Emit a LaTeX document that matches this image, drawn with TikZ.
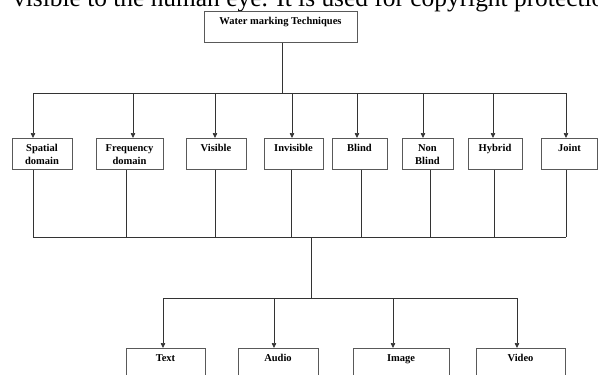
\documentclass[tikz,border=0pt]{standalone}
\usepackage{fontspec}
\setmainfont{Liberation Serif}
\usetikzlibrary{arrows.meta}

\begin{document}
\begin{tikzpicture}[x=1pt, y=-1pt,
    box/.style={draw=black!65, line width=0.8pt, minimum height=31pt, inner sep=0pt, anchor=north},
    tag/.style={font=\bfseries\fontsize{10.5}{13}\selectfont, align=center, anchor=north, inner sep=0pt, yshift=-6pt},
    link/.style={draw=black!80, line width=0.7pt},
    arr/.style={link, -{Triangle[width=4.5pt, length=5pt]}}]
    \useasboundingbox (0,0) rectangle (598,375);
    \clip (0,0) rectangle (598,375);

    % running text of the page above the figure
    \node[anchor=base west, inner sep=0pt, font=\fontsize{25.4}{25.4}\selectfont] (intro) at (13,6) {visible to the human eye. It is used for copyright protection};

    % root
    \node[box, minimum width=153pt, label={[tag]north:Water marking Techniques}] (root) at (280.5,11) {};

    % first level
    \node[box, minimum width=60pt, label={[tag]north:Spatial\\domain}] (spatial) at (42,138) {};
    \node[box, minimum width=67pt, label={[tag]north:Frequency\\domain}] (frequency) at (129.5,138) {};
    \node[box, minimum width=60pt, label={[tag]north:Visible}] (visible) at (216,138) {};
    \node[box, minimum width=59pt, label={[tag]north:Invisible}] (invisible) at (293.5,138) {};
    \node[box, minimum width=55pt, label={[tag]north:Blind}] (blind) at (359.5,138) {};
    \node[box, minimum width=51pt, label={[tag]north:Non\\Blind}] (nonblind) at (427.5,138) {};
    \node[box, minimum width=54pt, label={[tag]north:Hybrid}] (hybrid) at (495,138) {};
    \node[box, minimum width=56pt, label={[tag]north:Joint}] (joint) at (569.5,138) {};

    % second level
    \node[box, minimum width=79pt, minimum height=40pt, label={[tag]north:Text}] (text) at (165.5,348) {};
    \node[box, minimum width=80pt, minimum height=40pt, label={[tag]north:Audio}] (audio) at (278,348) {};
    \node[box, minimum width=96pt, minimum height=40pt, label={[tag]north:Image}] (image) at (401,348) {};
    \node[box, minimum width=89pt, minimum height=40pt, label={[tag]north:Video}] (video) at (520.5,348) {};

    % bus coordinates
    \coordinate (stemtop) at (282.5,93);
    \coordinate (t1) at (33,93);   \coordinate (t2) at (133,93);
    \coordinate (t3) at (215,93);  \coordinate (t4) at (292,93);
    \coordinate (t5) at (357,93);  \coordinate (t6) at (423,93);
    \coordinate (t7) at (493,93);  \coordinate (t8) at (566,93);
    \coordinate (m1) at (33,237);  \coordinate (m2) at (126,237);
    \coordinate (m3) at (215,237); \coordinate (m4) at (291,237);
    \coordinate (m5) at (361,237); \coordinate (m6) at (430,237);
    \coordinate (m7) at (494,237); \coordinate (m8) at (566,237);
    \coordinate (hub) at (311,237);
    \coordinate (b1) at (163,298); \coordinate (b2) at (274,298);
    \coordinate (b3) at (393,298); \coordinate (b4) at (517,298);

    % root to first level
    \draw[link] (root.south -| stemtop) -- (stemtop);
    \draw[link] (t1) -- (t8);
    \draw[arr] (t1) -- (t1 |- spatial.north);
    \draw[arr] (t2) -- (t2 |- frequency.north);
    \draw[arr] (t3) -- (t3 |- visible.north);
    \draw[arr] (t4) -- (t4 |- invisible.north);
    \draw[arr] (t5) -- (t5 |- blind.north);
    \draw[arr] (t6) -- (t6 |- nonblind.north);
    \draw[arr] (t7) -- (t7 |- hybrid.north);
    \draw[arr] (t8) -- (t8 |- joint.north);

    % first level to the common bus
    \draw[link] (spatial.south -| m1) -- (m1);
    \draw[link] (frequency.south -| m2) -- (m2);
    \draw[link] (visible.south -| m3) -- (m3);
    \draw[link] (invisible.south -| m4) -- (m4);
    \draw[link] (blind.south -| m5) -- (m5);
    \draw[link] (nonblind.south -| m6) -- (m6);
    \draw[link] (hybrid.south -| m7) -- (m7);
    \draw[link] (joint.south -| m8) -- (m8);
    \draw[link] (m1) -- (m8);

    % bus to second level
    \draw[link] (hub) -- (hub |- b1);
    \draw[link] (b1) -- (b4);
    \draw[arr] (b1) -- (b1 |- text.north);
    \draw[arr] (b2) -- (b2 |- audio.north);
    \draw[arr] (b3) -- (b3 |- image.north);
    \draw[arr] (b4) -- (b4 |- video.north);
\end{tikzpicture}
\end{document}
